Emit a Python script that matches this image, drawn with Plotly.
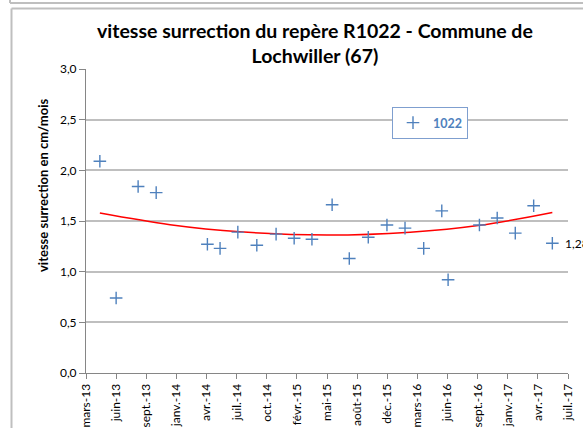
import numpy as np
import pandas as pd
import plotly.graph_objects as go

# ---- data ----
dates = ["2013-04-23", "2013-06-16", "2013-08-28", "2013-10-27", "2014-04-15", "2014-05-27",
         "2014-07-25", "2014-09-26", "2014-11-29", "2015-01-28", "2015-03-28", "2015-06-03",
         "2015-07-30", "2015-10-01", "2015-12-02", "2016-01-31", "2016-04-02", "2016-06-01",
         "2016-06-22", "2016-10-04", "2016-12-02", "2017-01-31", "2017-04-02", "2017-06-03"]
vitesse = [2.09, 0.74, 1.84, 1.78, 1.27, 1.23, 1.39, 1.26, 1.37, 1.33, 1.32, 1.66,
           1.13, 1.34, 1.46, 1.43, 1.23, 1.60, 0.92, 1.46, 1.53, 1.38, 1.65, 1.28]
# trendline (polynomial, order 2)
trend_dates = ["2013-04-23", "2013-12-12", "2014-08-01", "2015-05-17", "2016-02-17",
               "2016-10-06", "2017-06-03"]
trend_values = [1.578, 1.464, 1.393, 1.362, 1.390, 1.458, 1.585]
tick_labels = ["mars-13", "juin-13", "sept.-13", "janv.-14", "avr.-14", "juil.-14", "oct.-14",
               "févr.-15", "mai-15", "août-15", "déc.-15", "mars-16", "juin-16", "sept.-16",
               "janv.-17", "avr.-17", "juil.-17"]
series_name = "1022"
axis_start = "2013-03-08"

# ---- derived ----
d = pd.to_datetime(dates)
t0 = pd.Timestamp(axis_start)
tickvals = pd.date_range(t0, periods=len(tick_labels), freq="100D")
x_end = t0 + pd.Timedelta(days=100 * (len(tick_labels) - 1))

L, R, T, B = 86, 568, 69, 373


def px(x):
    return (x - L) / (R - L)


def py(y):
    return (B - y) / (B - T)


fig = go.Figure()
fig.add_trace(go.Scatter(x=pd.to_datetime(trend_dates), y=trend_values, mode="lines",
                         line=dict(color="#FF0000", width=1.5, shape="spline", smoothing=1.0),
                         showlegend=False, hoverinfo="skip"))
fig.add_trace(go.Scatter(x=d, y=vitesse, mode="markers", name=series_name,
                         marker=dict(symbol="cross-thin", size=9,
                                     line=dict(color="#4F81BD", width=1.4))))

fig.add_annotation(x=d[-1], y=vitesse[-1], xref="x", yref="y",
                   text=f"{vitesse[-1]:.2f}".replace(".", ","), showarrow=False,
                   xanchor="left", xshift=11, font=dict(family="Lato", size=12, color="#000000"))

fig.add_annotation(x=px(33), y=py(186), xref="paper", yref="paper",
                   text="<b>vitesse surrection en cm/mois</b>", textangle=-90, showarrow=False,
                   font=dict(family="Lato", size=13, color="#000000"))

fig.add_annotation(x=px(315), y=py(43), xref="paper", yref="paper",
                   xanchor="center", yanchor="middle", showarrow=False,
                   text="<b>vitesse surrection du repère R1022 - Commune de<br>Lochwiller (67)</b>",
                   font=dict(family="Lato", size=19.5, color="#000000"))

frame = dict(color="#BFBFBF", width=2)
shapes = [
    dict(type="line", xref="paper", yref="paper", x0=px(11.5), x1=px(700), y0=py(8.5), y1=py(8.5), line=frame),
    dict(type="line", xref="paper", yref="paper", x0=px(11.5), x1=px(11.5), y0=py(8.5), y1=py(500), line=frame),
    dict(type="line", xref="paper", yref="paper", x0=px(10), x1=px(700), y0=py(3), y1=py(3), line=frame),
    dict(type="line", xref="paper", yref="paper", x0=px(10), x1=px(10), y0=py(-10), y1=py(3), line=frame),
]

fig.update_layout(
    width=583, height=428,
    margin=dict(l=L, r=583 - R, t=T, b=428 - B, autoexpand=False),
    paper_bgcolor="white", plot_bgcolor="white",
    separators=", ",
    font=dict(family="Lato", size=12, color="#000000"),
    xaxis=dict(type="date", range=[t0, x_end], tickvals=tickvals, ticktext=tick_labels,
               tickangle=-90, showgrid=False, showline=True, linecolor="#868686", linewidth=1,
               ticks="outside", ticklen=5, tickcolor="#868686", automargin=False,
               tickfont=dict(family="Lato", size=12, color="#000000"), zeroline=False),
    yaxis=dict(range=[0, 3], dtick=0.5, tickformat=".1f", showgrid=True,
               gridcolor="#BFBFBF", gridwidth=1.5, showline=True, linecolor="#868686",
               linewidth=1, ticks="outside", ticklen=6, tickcolor="#868686", automargin=False,
               tickfont=dict(family="Lato", size=12, color="#000000"), zeroline=False),
    legend=dict(x=px(392), y=py(107), xanchor="left", yanchor="top",
                bgcolor="white", bordercolor="#7F9FCF", borderwidth=1,
                font=dict(family="Lato", size=12.5, color="#4F81BD", weight="bold")),
    shapes=shapes,
    showlegend=True,
)

fig.write_html("out.html", config={"displayModeBar": False},
               post_script="document.body.style.margin='0';document.body.style.padding='0';")
